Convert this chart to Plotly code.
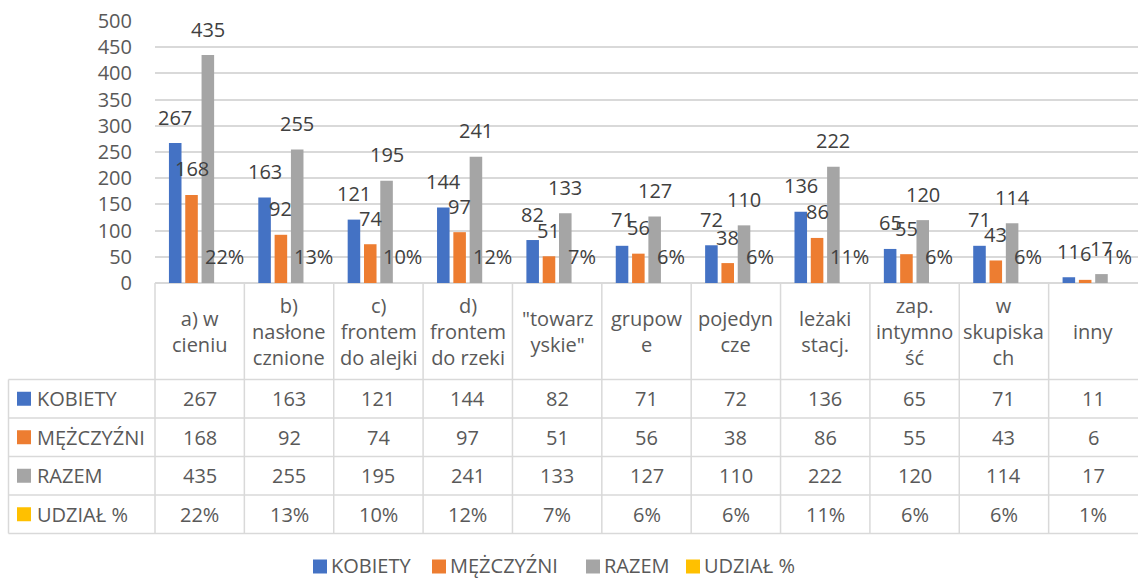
import plotly.graph_objects as go

# ---------------- data ----------------
categories = ["a) w cieniu", "b) nasłonecznione", "c) frontem do alejki", "d) frontem do rzeki",
              "\"towarzyskie\"", "grupowe", "pojedyncze", "leżaki stacj.", "zap. intymność",
              "w skupiskach", "inny"]
category_labels = ["a) w<br>cieniu", "b)<br>nasłone<br>cznione", "c)<br>frontem<br>do alejki",
                   "d)<br>frontem<br>do rzeki", "\"towarz<br>yskie\"", "grupow<br>e", "pojedyn<br>cze",
                   "leżaki<br>stacj.", "zap.<br>intymno<br>ść", "w<br>skupiska<br>ch", "inny"]
kobiety = [267, 163, 121, 144, 82, 71, 72, 136, 65, 71, 11]
mezczyzni = [168, 92, 74, 97, 51, 56, 38, 86, 55, 43, 6]
razem = [435, 255, 195, 241, 133, 127, 110, 222, 120, 114, 17]
udzial = [0.22, 0.13, 0.10, 0.12, 0.07, 0.06, 0.06, 0.11, 0.06, 0.06, 0.01]
series_names = ["KOBIETY", "MĘŻCZYŹNI", "RAZEM", "UDZIAŁ %"]
y_ticks = [0, 50, 100, 150, 200, 250, 300, 350, 400, 450, 500]

# ---------------- style / layout constants ----------------
colors = ["#4472C4", "#ED7D31", "#A5A5A5", "#FFC000"]
FONT = "'Open Sans', Lato, sans-serif"
TXT = "#595959"
LBL = "#404040"
GRID = "#D9D9D9"
W, H = 1138, 578
PL, PT, PB = 155, 21, 295
PW = W - PL
PH = H - PT - PB
BARGAP = 0.27
BARGROUPGAP = 0.23
LEGEND_X = [313, 432, 586, 686]   # pixel x of legend keys (bottom legend)
LEGEND_Y = 566.5


def px_x(X):
    return (X - PL) / PW


def px_y(Y):
    return (PT + PH - Y) / PH


def fmt_pct(v):
    return f"{round(v * 100)}%"


series_vals = [kobiety, mezczyzni, razem, udzial]
series_text = [[str(v) for v in kobiety], [str(v) for v in mezczyzni],
               [str(v) for v in razem], [fmt_pct(v) for v in udzial]]

fig = go.Figure()
for k, (name, vals, col) in enumerate(zip(series_names, series_vals, colors)):
    # the share series is on the count scale, so its bars have (near) zero height
    fig.add_trace(go.Bar(x=categories, y=vals, name=name, marker_color=col,
                         marker_line_width=0, hoverinfo="x+y+name", showlegend=False,
                         marker_opacity=0 if k == 3 else 1))

annotations = []
shapes = []

# data labels above bars
n_ser = len(series_vals)
slot = (1 - BARGAP) / n_ser
for k, (vals, texts) in enumerate(zip(series_vals, series_text)):
    for i, (v, t) in enumerate(zip(vals, texts)):
        annotations.append(dict(x=i + (k - (n_ser - 1) / 2) * slot, y=v, xref="x", yref="y",
                                text=t, showarrow=False, yshift=26, yanchor="middle",
                                font=dict(family=FONT, size=20, color=LBL)))

# ---------------- data table ----------------
HDR_TOP = PT + PH
HDR_BOT = 379.5
ROW_H = 38.5
TBL_L = 8.5
n_rows = len(series_names)
TBL_BOT = HDR_BOT + n_rows * ROW_H
line = dict(color=GRID, width=1.5)

for r in range(n_rows + 1):
    yy = px_y(HDR_BOT + r * ROW_H)
    shapes.append(dict(type="line", xref="paper", yref="paper", x0=px_x(TBL_L), x1=1,
                       y0=yy, y1=yy, line=line, layer="below"))
n_cat = len(categories)
for i in range(n_cat):
    xx = i / n_cat
    shapes.append(dict(type="line", xref="paper", yref="paper", x0=xx, x1=xx,
                       y0=px_y(HDR_TOP), y1=px_y(TBL_BOT), line=line, layer="below"))
shapes.append(dict(type="line", xref="paper", yref="paper", x0=px_x(TBL_L), x1=px_x(TBL_L),
                   y0=px_y(HDR_BOT), y1=px_y(TBL_BOT), line=line, layer="below"))

for i, lab in enumerate(category_labels):
    annotations.append(dict(x=i, y=px_y((HDR_TOP + HDR_BOT) / 2), xref="x", yref="paper",
                            text=lab, showarrow=False, yanchor="middle", xanchor="center",
                            align="center", font=dict(family=FONT, size=20, color=TXT)))

for r, (name, col, texts) in enumerate(zip(series_names, colors, series_text)):
    yc = HDR_BOT + (r + 0.5) * ROW_H
    shapes.append(dict(type="rect", xref="paper", yref="paper", x0=px_x(17), x1=px_x(31),
                       y0=px_y(yc - 7), y1=px_y(yc + 7), fillcolor=col, line=dict(width=0)))
    annotations.append(dict(x=px_x(35), y=px_y(yc), xref="paper", yref="paper", text=name,
                            showarrow=False, xanchor="left", yanchor="middle",
                            font=dict(family=FONT, size=20, color=TXT)))
    for i, t in enumerate(texts):
        annotations.append(dict(x=i, y=px_y(yc), xref="x", yref="paper", text=t,
                                showarrow=False, xanchor="center", yanchor="middle",
                                font=dict(family=FONT, size=20, color=TXT)))

# ---------------- bottom legend ----------------
for name, col, lx in zip(series_names, colors, LEGEND_X):
    shapes.append(dict(type="rect", xref="paper", yref="paper", x0=px_x(lx), x1=px_x(lx + 14),
                       y0=px_y(LEGEND_Y - 7), y1=px_y(LEGEND_Y + 7), fillcolor=col,
                       line=dict(width=0)))
    annotations.append(dict(x=px_x(lx + 17), y=px_y(LEGEND_Y - 1.5), xref="paper", yref="paper",
                            text=name, showarrow=False, xanchor="left", yanchor="middle",
                            borderpad=0, font=dict(family=FONT, size=20, color=TXT)))

fig.update_layout(
    width=W, height=H,
    margin=dict(l=PL, r=0, t=PT, b=PB, autoexpand=False),
    paper_bgcolor="white", plot_bgcolor="white",
    barmode="group", bargap=BARGAP, bargroupgap=BARGROUPGAP,
    font=dict(family=FONT, size=20, color=TXT),
    showlegend=False,
    xaxis=dict(type="category", showticklabels=False, showgrid=False, zeroline=False,
               showline=False, ticks="", range=[-0.5, n_cat - 0.5], fixedrange=True),
    yaxis=dict(range=[0, 500], tickvals=y_ticks, showgrid=True, gridcolor=GRID, gridwidth=1.5,
               zeroline=True, zerolinecolor=GRID, zerolinewidth=1.5, showline=False,
               ticks="", ticklabelstandoff=22,
               tickfont=dict(family=FONT, size=20, color=TXT), fixedrange=True),
    annotations=annotations,
    shapes=shapes,
)

fig.write_html("out.html", config={"displayModeBar": False},
               post_script="document.body.style.margin='0';")
